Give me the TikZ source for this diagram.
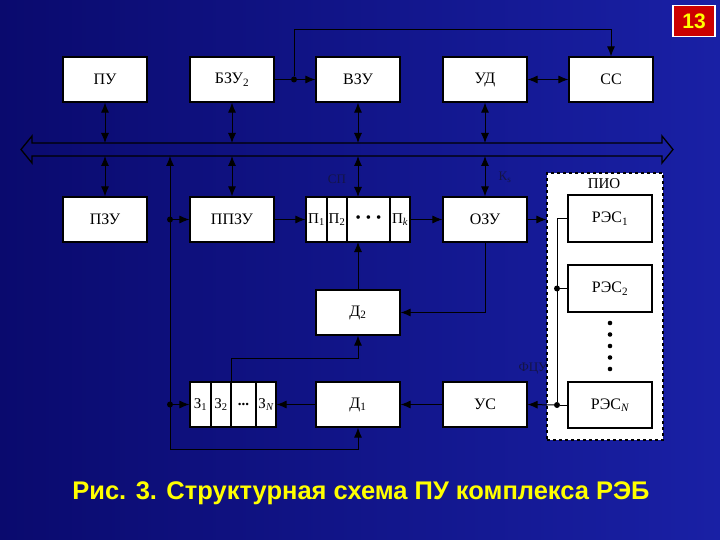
\documentclass[tikz,border=0pt]{standalone}
\usepackage{fontspec}
\setmainfont{Liberation Serif}
\newfontfamily\titlefont{Liberation Sans}
\usetikzlibrary{arrows.meta}
\definecolor{bgA}{RGB}{10,10,110}
\definecolor{bgB}{RGB}{25,32,165}
\definecolor{ttl}{RGB}{255,255,0}
\definecolor{redbox}{RGB}{204,0,0}
\definecolor{lblc}{RGB}{20,20,70}
\begin{document}
\begin{tikzpicture}[x=1pt,y=-1pt,
 blk/.style={draw=black, fill=white, line width=1.2pt, minimum width=84pt, minimum height=45pt, inner sep=0pt, font=\fontsize{16}{18}\selectfont},
 cell/.style={draw=black, fill=white, line width=1.2pt, minimum height=45pt, inner sep=0pt, font=\fontsize{15}{17}\selectfont},
 conn/.style={line width=1pt, draw=black},
 arr/.style={conn, -{Latex[length=10pt,width=8pt]}},
 darr/.style={conn, {Latex[length=10pt,width=8pt]}-{Latex[length=10pt,width=8pt]}},
 jdot/.style={circle, fill=black, inner sep=0pt, minimum size=6pt},
 lbl/.style={font=\fontsize{13}{15}\selectfont, text=lblc}
]
\useasboundingbox (0,0) rectangle (720,540);
\shade[left color=bgA, right color=bgB] (0,0) rectangle (720,540);

% top row
\node[blk] (pu)  at (105,79.5) {ПУ};
\node[blk] (bzu) at (232,79.5) {БЗУ\textsubscript{2}};
\node[blk] (vzu) at (358,79.5) {ВЗУ};
\node[blk] (ud)  at (485,79.5) {УД};
\node[blk] (ss)  at (611,79.5) {СС};

% bus
\coordinate (busT) at (0,143);
\coordinate (busB) at (0,156);
\draw[line width=1.3pt] (32,143) -- (662,143) -- (662,136) -- (673,149.5) -- (662,163) -- (662,156) -- (32,156) -- (32,163) -- (21,149.5) -- (32,136) -- cycle;

% second row
\node[blk] (pzu)  at (105,219.5) {ПЗУ};
\node[blk] (ppzu) at (232,219.5) {ППЗУ};
\node[cell, minimum width=21pt] (p1) at (316.5,219.5) {П\textsubscript{1}};
\node[cell, minimum width=20pt] (p2) at (337,219.5) {П\textsubscript{2}};
\node[cell, minimum width=43pt] (pd) at (368.5,219.5) {\textbullet\,\,\textbullet\,\,\textbullet};
\node[cell, minimum width=20pt] (pk) at (400,219.5) {П\textsubscript{\itshape k}};
\node[blk] (ozu)  at (485,219.5) {ОЗУ};

\node[blk] (d2) at (358,312.5) {Д\textsubscript{2}};

% third row
\node[cell, minimum width=21pt] (z1) at (200.5,404.5) {З\textsubscript{1}};
\node[cell, minimum width=20pt] (z2) at (221,404.5) {З\textsubscript{2}};
\node[cell, minimum width=25pt] (zd) at (243.5,404.5) {\textbf{...}};
\node[cell, minimum width=20pt] (zn) at (266,404.5) {З\textsubscript{\itshape N}};
\node[blk] (d1) at (358,404.5) {Д\textsubscript{1}};
\node[blk] (us) at (485,404.5) {УС};

% labels
\node[lbl] (lsp) at (337,179) {СП};
\node[lbl] (lks) at (505,177) {К\textsubscript{s}};
\node[lbl] (lfcu) at (533,369) {ФЦУ};

% PIO
\node[draw=black, dashed, fill=white, line width=1.2pt, minimum width=116pt, minimum height=267pt, inner sep=0pt] (pio) at (605,306.5) {};
\node[font=\fontsize{15}{17}\selectfont] (piol) at (604,184) {ПИО};
\node[blk, minimum height=47pt] (r1) at (610,218.5) {РЭС\textsubscript{1}};
\node[blk, minimum height=47pt] (r2) at (610,288.5) {РЭС\textsubscript{2}};
\node[blk, minimum height=46pt] (rn) at (610,405) {РЭС\textsubscript{\itshape N}};
\foreach \yy in {323,334.5,346,357.5,369} \fill (610,\yy) circle (2.3pt);

% top connections
\node[jdot] (j1) at (294,79.5) {};
\draw[arr] (bzu.east) -- (vzu.west);
\draw[arr] (j1) -- (j1 |- 0,30) -| (ss.north);
\draw[darr] (ud.east) -- (ss.west);

% bus connections
\foreach \n in {pu,bzu,vzu,ud} \draw[darr] (\n.south) -- (\n.south |- busT);
\foreach \n in {pzu,ppzu,ozu} \draw[darr] (\n.north) -- (\n.north |- busB);
\coordinate (pbt) at (358,197);
\coordinate (pbb) at (358,242);
\draw[darr] (pbt) -- (pbt |- busB);

% left vertical line
\coordinate (vb) at (170,449);
\draw[arr] (vb) -- (vb |- busB);
\draw[arr] (vb) -| (d1.south);
\node[jdot] (ja) at (170,219.5) {};
\node[jdot] (jb) at (170,404.5) {};
\draw[arr] (ja) -- (ppzu.west);
\draw[arr] (jb) -- (z1.west);

% second row flows
\draw[arr] (ppzu.east) -- (p1.west);
\draw[arr] (pk.east) -- (ozu.west);
\draw[arr] (ozu.east) -- (ozu.east -| pio.west);
\draw[arr] (ozu.south) |- (d2.east);
\draw[arr] (d2.north) -- (pbb);
\draw[arr] (z2.north east) -- ++(0,-23) -| (d2.south);

% third row flows
\draw[arr] (d1.west) -- (zn.east);
\draw[arr] (us.west) -- (d1.east);

% inside PIO
\node[jdot] (j2) at (557,288.5) {};
\node[jdot] (jn) at (557,405) {};
\draw[conn] (r1.west) -- (r1.west -| jn) -- (jn);
\draw[conn] (j2) -- (r2.west);
\draw[conn] (jn) -- (rn.west);
\draw[arr] (jn) -- (us.east);

% title and page number
\node[font=\titlefont\bfseries\fontsize{25.5}{28}\selectfont, text=ttl] (title) at (361,493) {Рис. 3. Структурная схема ПУ комплекса РЭБ};
\node[draw=white, line width=1.5pt, fill=redbox, text=ttl, font=\titlefont\bfseries\fontsize{21}{23}\selectfont, minimum width=42pt, minimum height=31pt, inner sep=0pt] (num) at (694,21) {13};
\end{tikzpicture}
\end{document}
